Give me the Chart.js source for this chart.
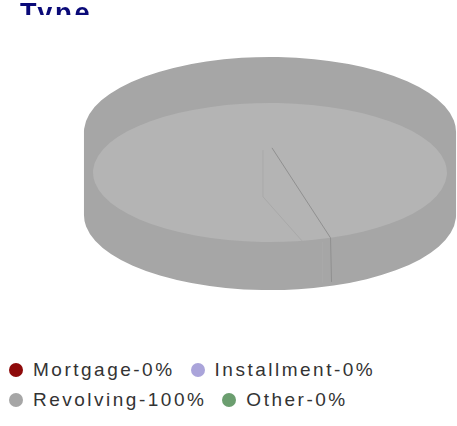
<!DOCTYPE html>
<html>
<head>
<meta charset="utf-8">
<script src="https://cdn.jsdelivr.net/npm/chart.js@4.4.1/dist/chart.umd.min.js"></script>
<style>
    html, body { margin: 0; padding: 0; background: #fff; }
    #frame { position: relative; width: 457px; height: 426px; overflow: hidden; font-family: "Liberation Sans", Arial, sans-serif; }
    #chartTitle { position: absolute; left: 20px; top: 0; height: 15px; overflow: hidden; font-weight: bold; font-size: 27px; line-height: 27px; letter-spacing: 2.8px; color: #0a0a78; white-space: nowrap; }
    #typeChart { position: absolute; left: 0; top: 0; }
    #typeLegend { position: absolute; left: 9px; top: 355px; width: 448px; margin: 0; padding: 0; list-style: none; display: flex; flex-wrap: wrap; }
    #typeLegend li { display: flex; align-items: center; height: 30px; margin-right: 16px; font-size: 19px; letter-spacing: 2.5px; color: #333; white-space: nowrap; }
    #typeLegend .dot { width: 14px; height: 14px; border-radius: 50%; margin-right: 10px; flex: none; }
</style>
</head>
<body>
<div id="frame">
    <canvas id="typeChart" width="457" height="300"></canvas>
    <div id="chartTitle"></div>
    <ul id="typeLegend"></ul>
</div>
<script>
// Data
const titleText = 'Type';
const categories = ['Mortgage', 'Installment', 'Revolving', 'Other'];
const shares = [0, 0, 100, 0];
const sliceColors = ['#8e0a0a', '#aaa4da', '#a6a6a6', '#6b9e6f'];

// geser warna hex (+ lebih terang, - lebih gelap)
function shade(hex, amt) {
    const n = parseInt(hex.slice(1), 16);
    const c = v => Math.max(0, Math.min(255, v + amt));
    const r = c(n >> 16), g = c((n >> 8) & 255), b = c(n & 255);
    return '#' + ((1 << 24) + (r << 16) + (g << 8) + b).toString(16).slice(1);
}

function wedgePath(ctx, cx, cy, rx, ry, start, end) {
    ctx.moveTo(cx, cy);
    ctx.ellipse(cx, cy, rx, ry, 0, start, end);
    ctx.closePath();
}

// pie 3D sederhana: pakai geometri arc dari Chart.js lalu diproyeksikan
const pie3d = {
    id: 'pie3d',
    beforeDatasetsDraw(chart) {
        const ctx = chart.ctx;
        const arcs = chart.getDatasetMeta(0).data.filter(a => a.circumference > 0);
        if (!arcs.length) return false;
        const { x, y, outerRadius: r } = arcs[0];
        const side = { rx: r * 1.597, ry: r * 0.644, lift: r * 0.356 };
        const face = { rx: r * 1.519, ry: r * 0.597, cy: y - 1 };

        ctx.save();
        // dinding samping
        arcs.forEach(arc => {
            ctx.fillStyle = arc.options.backgroundColor;
            ctx.beginPath();
            for (let dy = -side.lift; dy <= side.lift + 0.5; dy += 1) {
                wedgePath(ctx, x, y + dy, side.rx, side.ry, arc.startAngle, arc.endAngle);
            }
            ctx.fill('nonzero');
        });
        // permukaan atas
        arcs.forEach(arc => {
            ctx.fillStyle = shade(arc.options.backgroundColor, 14);
            ctx.beginPath();
            wedgePath(ctx, x, face.cy, face.rx, face.ry, arc.startAngle, arc.endAngle);
            ctx.fill();
        });
        // garis tepi irisan
        arcs.forEach(arc => {
            const color = arc.options.backgroundColor;
            const a = arc.startAngle;
            const rim = { x: x + face.rx * Math.cos(a), y: face.cy + face.ry * Math.sin(a) };
            const baseAt = px => y + side.lift + side.ry * Math.sqrt(Math.max(0, 1 - ((px - x) / side.rx) ** 2)) - 4;
            ctx.lineWidth = 1;

            // garis samar
            ctx.strokeStyle = shade(color, 3);
            const fx = x - r * 0.06;
            const rim2x = x + r * 0.275;
            const rim2y = face.cy + face.ry * Math.sqrt(1 - ((rim2x - x) / face.rx) ** 2);
            ctx.beginPath();
            ctx.moveTo(fx, y - r * 0.2);
            ctx.lineTo(fx, y + r * 0.2);
            ctx.lineTo(rim2x, rim2y);
            ctx.moveTo(rim.x - 8, rim.y + 4);
            ctx.lineTo(rim.x - 8, baseAt(rim.x - 8));
            ctx.stroke();

            // garis utama
            ctx.strokeStyle = shade(color, -22);
            ctx.beginPath();
            ctx.moveTo(x + r * 0.017, y - r * 0.22);
            ctx.lineTo(rim.x, rim.y);
            ctx.lineTo(rim.x + 1, baseAt(rim.x));
            ctx.stroke();
        });
        ctx.restore();
        return false;
    }
};

// legend HTML dari item legend Chart.js
const htmlLegend = {
    id: 'htmlLegend',
    afterUpdate(chart) {
        const ul = document.getElementById('typeLegend');
        ul.innerHTML = '';
        const items = chart.options.plugins.legend.labels.generateLabels(chart);
        items.forEach(item => {
            const li = document.createElement('li');
            const dot = document.createElement('span');
            dot.className = 'dot';
            dot.style.background = item.fillStyle;
            const text = document.createElement('span');
            text.textContent = `${item.text}-${shares[item.index]}%`;
            li.appendChild(dot);
            li.appendChild(text);
            ul.appendChild(li);
        });
    }
};

document.getElementById('chartTitle').textContent = titleText;

const ctx = document.getElementById('typeChart').getContext('2d');
const typeChart = new Chart(ctx, {
    type: 'pie',
    data: {
        labels: categories,
        datasets: [{
            data: shares,
            backgroundColor: sliceColors,
            borderWidth: 0
        }]
    },
    options: {
        responsive: false,
        animation: false,
        rotation: 160,
        layout: {
            padding: { top: 57, left: 84, right: 1, bottom: 10 }
        },
        plugins: {
            legend: { display: false },
            title: { display: false },
            tooltip: { enabled: false }
        }
    },
    plugins: [pie3d, htmlLegend]
});
</script>
</body>
</html>
